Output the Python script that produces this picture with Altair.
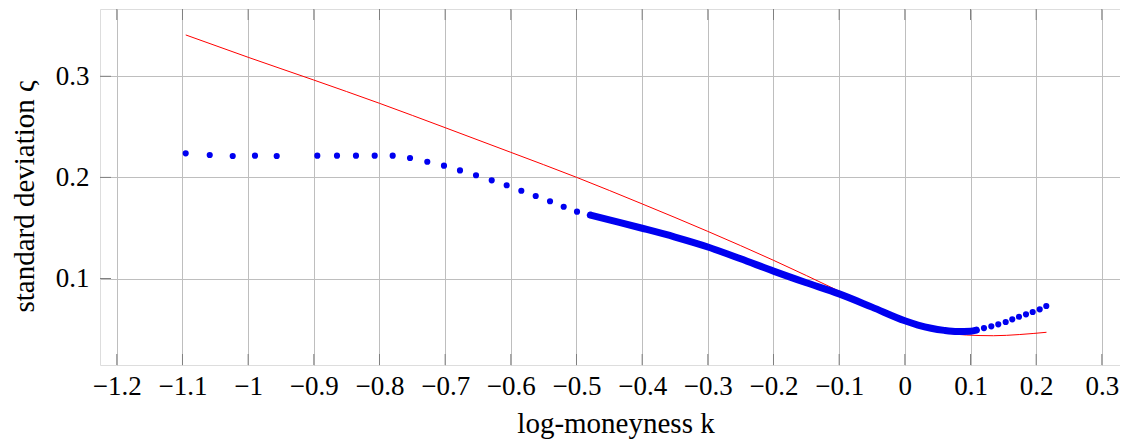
import altair as alt
import pandas as pd

# ---------------- data ----------------
x_ticks = [-1.2, -1.1, -1.0, -0.9, -0.8, -0.7, -0.6, -0.5, -0.4, -0.3,
           -0.2, -0.1, 0.0, 0.1, 0.2, 0.3]
y_ticks = [0.1, 0.2, 0.3]

# red fitted curve
red_k = [-1.095, -1.0, -0.9, -0.8, -0.7, -0.6, -0.5, -0.4, -0.3, -0.2, -0.1,
         -0.05, 0.0, 0.04, 0.07, 0.094, 0.135, 0.175, 0.2157]
red_s = [0.3409, 0.3188, 0.2963, 0.2733, 0.2492, 0.2248, 0.2001, 0.1738,
         0.1466, 0.1180, 0.0875, 0.0718, 0.0572, 0.0494, 0.0456, 0.0441,
         0.0434, 0.0446, 0.0468]

# sparse blue observations (left wing)
left_k = [-1.0951, -1.0585, -1.0235, -0.9896, -0.9565, -0.8947, -0.8647,
          -0.8358, -0.8073, -0.7799, -0.7535, -0.7272, -0.7018, -0.6774,
          -0.6530, -0.6291, -0.6063, -0.5840, -0.5621, -0.5403, -0.5195,
          -0.4992]
left_s = [0.2238, 0.2222, 0.2212, 0.2215, 0.2212, 0.2215, 0.2215, 0.2215,
          0.2215, 0.2215, 0.2192, 0.2155, 0.2116, 0.2069, 0.2021, 0.1971,
          0.1922, 0.1868, 0.1816, 0.1764, 0.1710, 0.1661]

# dense blue observations (drawn as a continuous band of dots)
dense_k = [-0.479, -0.45, -0.40, -0.35, -0.30, -0.25, -0.20, -0.15, -0.10,
           -0.05, 0.00, 0.02, 0.04, 0.06, 0.08, 0.10, 0.109]
dense_s = [0.1628, 0.1580, 0.1497, 0.1410, 0.1312, 0.1195, 0.1073, 0.0958,
           0.0848, 0.0717, 0.0582, 0.0540, 0.0508, 0.0487, 0.0476, 0.0479,
           0.0490]

# sparse blue observations (right wing)
right_k = [0.1205, 0.1317, 0.1423, 0.1536, 0.1636, 0.1738, 0.1845, 0.1947,
           0.2054, 0.2154]
right_s = [0.0510, 0.0527, 0.0547, 0.0570, 0.0596, 0.0622, 0.0646, 0.0669,
           0.0695, 0.0728]

# ---------------- layout ----------------
W, H = 1031, 356
XDOM = [-1.2256, 0.3444]
YDOM = [0.01445, 0.36657]
FONT = "Liberation Serif"
BLUE = "#0000f0"
TICK = "#808080"

xs = alt.Scale(domain=XDOM, nice=False, zero=False)
ys = alt.Scale(domain=YDOM, nice=False, zero=False)

x_axis = alt.Axis(
    values=x_ticks,
    labelExpr="replace(format(datum.value, '.1~f'), '-', '\u2212')",
    grid=True, gridColor="#bebebe", gridWidth=1,
    ticks=False, domain=False,
    labelFont=FONT, labelFontSize=27, labelColor="black", labelPadding=8,
    labelOverlap=False, labelFlush=False,
    title="log-moneyness k", titleFont=FONT, titleFontSize=29,
    titleFontWeight="normal", titleColor="black",
    titleBaseline="alphabetic", titleY=67,
)
y_axis = alt.Axis(
    values=y_ticks, format=".1f",
    grid=True, gridColor="#bebebe", gridWidth=1,
    ticks=False, domain=False,
    labelFont=FONT, labelFontSize=27, labelColor="black", labelPadding=11,
    labelOverlap=False, labelFlush=False,
    title="standard deviation \u03c2", titleFont=FONT, titleFontSize=29,
    titleFontWeight="normal", titleColor="black",
    titleAngle=270, titleX=-67, titleY=187, titleAlign="center",
    titleBaseline="alphabetic",
)


def X():
    return alt.X("k:Q", scale=xs, axis=x_axis)


def Y():
    return alt.Y("s:Q", scale=ys, axis=y_axis)


xt_df = pd.DataFrame({"k": x_ticks})
yt_df = pd.DataFrame({"s": y_ticks})
red_df = pd.DataFrame({"k": red_k, "s": red_s})
left_df = pd.DataFrame({"k": left_k, "s": left_s})
dense_df = pd.DataFrame({"k": dense_k, "s": dense_s})
right_df = pd.DataFrame({"k": right_k, "s": right_s})

tick_bottom = alt.Chart(xt_df).mark_rule(color=TICK, strokeWidth=1).encode(
    x=X(), y=alt.value(H), y2=alt.value(H - 11))
tick_top = alt.Chart(xt_df).mark_rule(color=TICK, strokeWidth=1).encode(
    x=X(), y=alt.value(0), y2=alt.value(11))
tick_left = alt.Chart(yt_df).mark_rule(color=TICK, strokeWidth=1).encode(
    y=Y(), x=alt.value(0), x2=alt.value(11))
tick_right = alt.Chart(yt_df).mark_rule(color=TICK, strokeWidth=1).encode(
    y=Y(), x=alt.value(W), x2=alt.value(W - 11))

red = alt.Chart(red_df).mark_line(color="#ff0000", strokeWidth=1,
                                  interpolate="monotone").encode(
    x=X(), y=Y(), order="k:Q")

dense = alt.Chart(dense_df).mark_line(color=BLUE, strokeWidth=7,
                                      strokeCap="round", strokeJoin="round",
                                      interpolate="monotone").encode(
    x=X(), y=Y(), order="k:Q")

left = alt.Chart(left_df).mark_circle(color=BLUE, size=38, opacity=1).encode(
    x=X(), y=Y())
right = alt.Chart(right_df).mark_circle(color=BLUE, size=38, opacity=1).encode(
    x=X(), y=Y())

chart = alt.layer(
    tick_bottom, tick_top, tick_left, tick_right, red, dense, left, right
).properties(
    width=W, height=H,
    padding={"left": 92, "top": 1, "right": -11, "bottom": 74},
    autosize=alt.AutoSizeParams(type="none"),
).configure_view(
    stroke="black", strokeWidth=1
).configure(background="white")

chart.save("out.html", embed_options={"renderer": "svg", "actions": False})
